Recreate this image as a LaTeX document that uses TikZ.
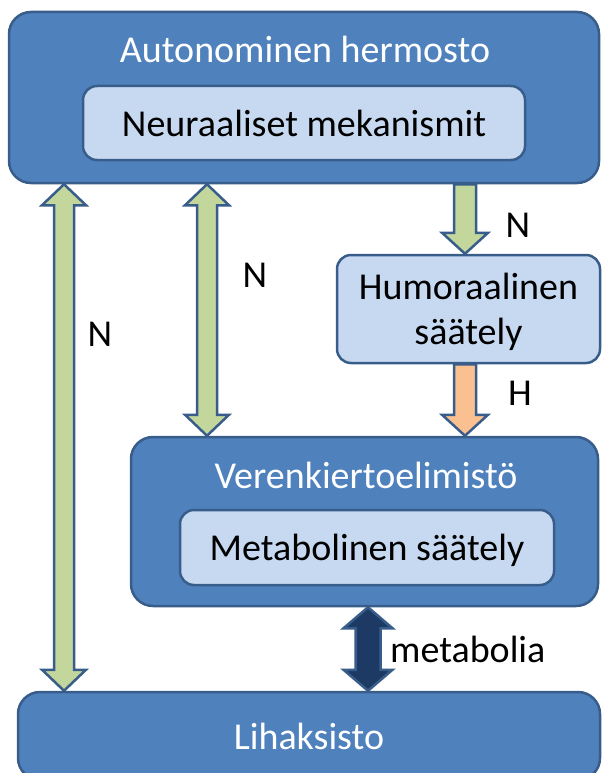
\documentclass[tikz,border=0pt]{standalone}
\usepackage{fontspec}
\setmainfont{Carlito}
\usetikzlibrary{calc}

\definecolor{boxblue}{HTML}{4F81BD}
\definecolor{boxline}{HTML}{385D8A}
\definecolor{paleblue}{HTML}{C6D9F1}
\definecolor{arrgreen}{HTML}{C3D69B}
\definecolor{arrorange}{HTML}{FAC090}
\definecolor{arrdark}{HTML}{1C3A63}

% block arrows, vertical only: style, half shaft width, from, to
\newcommand{\twoarrow}[4]{%
  \path[#1] let \p1=#3, \p2=#4 in
    (\x1,\y1) -- (\x1+#2pt+12pt,\y1-21pt) -- (\x1+#2pt,\y1-21pt)
    -- (\x1+#2pt,\y2+21pt) -- (\x1+#2pt+12pt,\y2+21pt) -- (\x1,\y2)
    -- (\x1-#2pt-12pt,\y2+21pt) -- (\x1-#2pt,\y2+21pt)
    -- (\x1-#2pt,\y1-21pt) -- (\x1-#2pt-12pt,\y1-21pt) -- cycle;}
\newcommand{\onearrow}[4]{%
  \path[#1] let \p1=#3, \p2=#4 in
    (\x1-#2pt,\y1) -- (\x1-#2pt,\y2+21pt) -- (\x1-#2pt-12pt,\y2+21pt)
    -- (\x1,\y2) -- (\x1+#2pt+12pt,\y2+21pt) -- (\x1+#2pt,\y2+21pt)
    -- (\x1+#2pt,\y1) -- cycle;}

\tikzset{
  bigbox/.style={draw=boxline, fill=boxblue, line width=2.5pt, rounded corners=22pt,
    inner sep=0pt, text=white, text depth=0pt, font=\fontsize{38}{45}\selectfont},
  smallbox/.style={draw=boxline, fill=paleblue, line width=2.5pt, rounded corners=14pt,
    inner sep=0pt, text=black, text depth=0pt, align=center, font=\fontsize{38}{45}\selectfont},
  lbl/.style={anchor=base, inner sep=0pt, font=\fontsize{38}{45}\selectfont},
  arrline/.style={draw=boxline, line width=2.5pt, line join=miter},
}

\begin{document}
\begin{tikzpicture}[x=1pt,y=-1pt]
    \useasboundingbox (0,0) rectangle (602,773);

    % boxes
    \node[bigbox, minimum width=590pt, minimum height=171pt] (auto) at (304,97.5) {};
    \node[lbl, text=white] (autotitle) at (305,63) {Autonominen hermosto};
    \node[smallbox, minimum width=442pt, minimum height=74pt] (neur) at (304,123) {Neuraaliset mekanismit};

    \node[smallbox, minimum width=263pt, minimum height=108pt] (humo) at (468.5,309) {Humoraalinen\\säätely};

    \node[bigbox, minimum width=467pt, minimum height=169pt] (veren) at (364.5,521.5) {};
    \node[lbl, text=white] (verentitle) at (366,488) {Verenkiertoelimistö};
    \node[smallbox, minimum width=374pt, minimum height=75pt] (meta) at (367,547.5) {Metabolinen säätely};

    \node[bigbox, minimum width=582pt, minimum height=88pt] (liha) at (309,736) {Lihaksisto};

    % arrows
    \twoarrow{arrline, fill=arrgreen}{10}{(64,0 |- auto.south)}{(64,0 |- liha.north)}
    \twoarrow{arrline, fill=arrgreen}{10}{(207,0 |- auto.south)}{(207,0 |- veren.north)}
    \onearrow{arrline, fill=arrgreen}{11}{(465,0 |- auto.south)}{(465,0 |- humo.north)}
    \onearrow{arrline, fill=arrorange}{11}{(465,0 |- humo.south)}{(465,0 |- veren.north)}
    \twoarrow{arrline, fill=arrdark}{12.5}{(368,0 |- veren.south)}{(368,0 |- liha.north)}

    % labels
    \node[lbl] (nleft) at (100,346) {N};
    \node[lbl] (nmid) at (255,287) {N};
    \node[lbl] (nright) at (518,237) {N};
    \node[lbl] (hlbl) at (520,405) {H};
    \node[lbl, anchor=base west] (metalbl) at (390,662) {metabolia};
\end{tikzpicture}
\end{document}
